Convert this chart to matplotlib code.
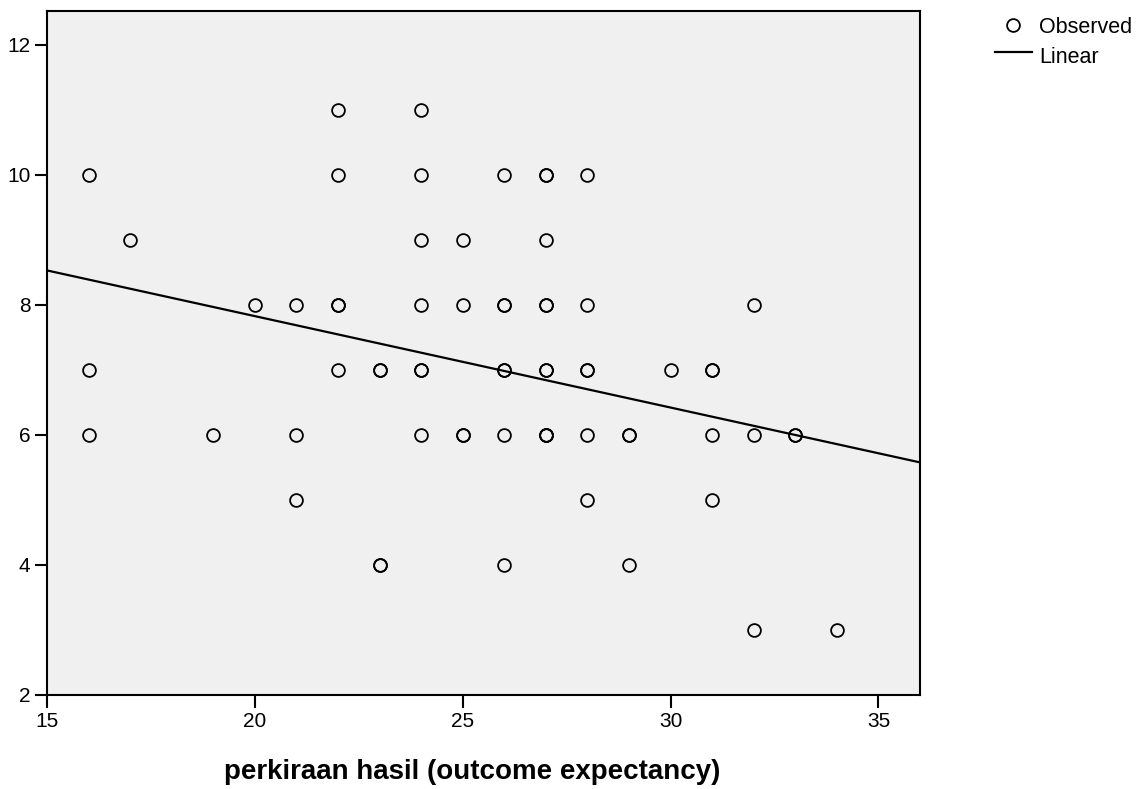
import numpy as np
import matplotlib.pyplot as plt
from matplotlib.lines import Line2D

# observed values (x = outcome expectancy, y = score), duplicates kept
x_obs = [16, 16, 16, 17, 19, 20, 21, 21, 21,
         22, 22, 22, 22, 22, 23, 23, 23, 23,
         24, 24, 24, 24, 24, 24, 24, 25, 25, 25, 25,
         26, 26, 26, 26, 26, 26, 26,
         27, 27, 27, 27, 27, 27, 27, 27, 27, 27,
         28, 28, 28, 28, 28, 28, 29, 29, 29, 30,
         31, 31, 31, 31, 32, 32, 32, 33, 33, 34]
y_obs = [10, 7, 6, 9, 6, 8, 8, 6, 5,
         11, 10, 8, 8, 7, 7, 7, 4, 4,
         11, 10, 9, 8, 7, 7, 6, 9, 8, 6, 6,
         10, 8, 8, 7, 7, 6, 4,
         10, 10, 9, 8, 8, 7, 7, 6, 6, 6,
         10, 8, 7, 7, 6, 5, 6, 6, 4, 7,
         7, 7, 6, 5, 8, 6, 3, 6, 6, 3]

# linear fit
fit_intercept_at_15 = 8.53
fit_slope = -0.1406

x_ticks = [15, 20, 25, 30, 35]
y_ticks = [2, 4, 6, 8, 10, 12]

plt.rcParams['font.family'] = ['Liberation Sans', 'DejaVu Sans']

W, H = 1142, 789
fig = plt.figure(figsize=(W / 100, H / 100), dpi=100)
ax = fig.add_axes([47 / W, 94 / H, 873 / W, 684 / H])
ax.set_facecolor('#f0f0f0')

marker_style = dict(linestyle='none', marker='o', markersize=9.2,
                    markerfacecolor='none', markeredgecolor='black', markeredgewidth=1.3)
ax.plot(x_obs, y_obs, **marker_style)

xl = np.array([15, 36])
ax.plot(xl, fit_intercept_at_15 + fit_slope * (xl - 15), color='black', linewidth=1.6)

ax.set_xlim(15, 36)
ax.set_ylim(2, 12.52)
ax.set_xticks(x_ticks)
ax.set_yticks(y_ticks)
ax.tick_params(direction='out', length=9, width=1.5, labelsize=15, pad=3)
for s in ax.spines.values():
    s.set_linewidth(1.5)

fig.text(472 / W, 1 - 779 / H, 'perkiraan hasil (outcome expectancy)',
         fontsize=20, fontweight='bold', ha='center', va='baseline')

# legend, drawn by hand to sit where SPSS puts it
fig.add_artist(Line2D([1013 / W], [1 - 25 / H], transform=fig.transFigure, **marker_style))
fig.add_artist(Line2D([995 / W, 1032 / W], [1 - 52 / H, 1 - 52 / H],
                      transform=fig.transFigure, color='black', linewidth=1.6))
fig.text(1039 / W, 1 - 33 / H, 'Observed', fontsize=15.5, va='baseline')
fig.text(1039 / W, 1 - 63 / H, 'Linear', fontsize=15.5, va='baseline')

fig.savefig('out.png', dpi=100)
